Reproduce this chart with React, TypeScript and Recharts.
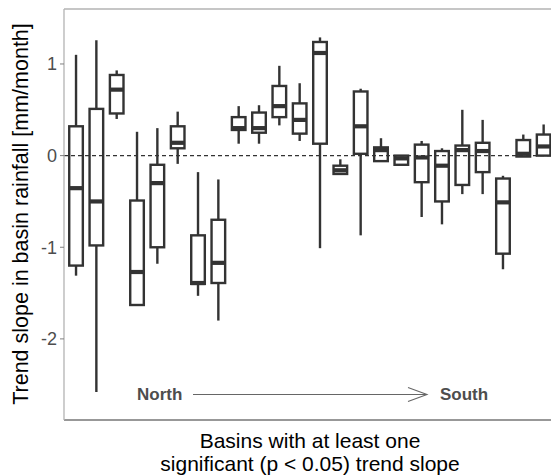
import { Bar, ComposedChart, ReferenceLine, XAxis, YAxis } from "recharts";

// basins ordered north -> south
const basins = [1, 2, 3, 4, 5, 6, 7, 8, 9, 10, 11, 12, 13, 14, 15, 16, 17, 18, 19, 20, 21, 22, 23, 24];
const whiskerLow = [-1.31, -2.58, 0.4, -1.63, -1.18, -0.09, -1.53, -1.8, 0.13, 0.13, 0.33, 0.16, -1.01, -0.2, -0.87, -0.06, -0.1, -0.67, -0.75, -0.42, -0.42, -1.24, -0.01, 0.0];
const q1 = [-1.2, -0.98, 0.46, -1.63, -1.0, 0.08, -1.4, -1.39, 0.28, 0.25, 0.42, 0.24, 0.13, -0.2, 0.02, -0.06, -0.1, -0.29, -0.5, -0.32, -0.18, -1.07, -0.01, 0.0];
const median = [-0.355, -0.5, 0.72, -1.27, -0.3, 0.14, -1.39, -1.17, 0.3, 0.3, 0.54, 0.39, 1.12, -0.16, 0.32, 0.06, -0.03, -0.02, -0.11, 0.06, 0.05, -0.51, 0.02, 0.1];
const q3 = [0.32, 0.51, 0.88, -0.49, -0.1, 0.32, -0.87, -0.7, 0.42, 0.47, 0.76, 0.57, 1.24, -0.11, 0.7, 0.09, 0.0, 0.12, 0.05, 0.11, 0.14, -0.25, 0.17, 0.23];
const whiskerHigh = [1.1, 1.26, 0.93, 0.26, 0.3, 0.48, -0.18, -0.26, 0.54, 0.55, 0.98, 0.79, 1.29, -0.04, 0.73, 0.19, 0.0, 0.16, 0.08, 0.5, 0.39, -0.22, 0.23, 0.34];
const yTicks = [-2, -1, 0, 1];

const data = basins.map((b, i) => ({
  idx: b,
  low: whiskerLow[i],
  q1: q1[i],
  median: median[i],
  q3: q3[i],
  high: whiskerHigh[i],
  range: [whiskerLow[i], whiskerHigh[i]],
}));

const INK = "#333333";
const FONT = "'Liberation Sans', Arial, Helvetica, sans-serif";

function BoxShape(props: any) {
  const { x, y, width, height, payload } = props;
  if (!payload) return null;
  const { low, high } = payload;
  const k = height / (high - low);
  const py = (v: number) => y + (high - v) * k;
  const cx = x + width / 2;
  const top = py(payload.q3);
  const bot = py(payload.q1);
  return (
    <g>
      <line x1={cx} x2={cx} y1={py(high)} y2={py(low)} stroke={INK} strokeWidth={2.4} />
      <rect
        x={x + 1.2}
        y={top}
        width={width - 2.4}
        height={Math.max(bot - top, 0.5)}
        fill="#fff"
        stroke={INK}
        strokeWidth={2.4}
      />
      <line x1={x + 1.2} x2={x + width - 1.2} y1={py(payload.median)} y2={py(payload.median)} stroke={INK} strokeWidth={4.2} />
    </g>
  );
}

export default function App() {
  return (
    <div style={{ position: "fixed", left: 0, top: 0, width: 551, height: 475, overflow: "hidden", background: "#fff" }}>
      <ComposedChart width={570} height={475} data={data} margin={{ top: 9, right: 14, left: 0, bottom: 0 }}>
        <XAxis
          type="number"
          dataKey="idx"
          domain={[0.4, 24.6]}
          allowDataOverflow
          tick={false}
          tickLine={false}
          axisLine={{ stroke: INK, strokeWidth: 1.2 }}
          height={55}
        />
        <YAxis
          type="number"
          domain={[-2.885, 1.6]}
          allowDataOverflow
          ticks={yTicks}
          tickFormatter={(v: number) => `${v}`}
          tick={{ fill: "#4d4d4d", fontSize: 18, fontFamily: FONT }}
          tickSize={4}
          tickMargin={3}
          tickLine={{ stroke: "#7f7f7f" }}
          axisLine={{ stroke: "#b3b3b3", strokeWidth: 1.3 }}
          width={64}
        />
        <ReferenceLine y={1.6} stroke="#b3b3b3" strokeWidth={1.5} />
        <ReferenceLine y={0} stroke={INK} strokeWidth={1.2} strokeDasharray="4 3" />
        <Bar dataKey="range" barSize={16} shape={BoxShape} isAnimationActive={false} />
      </ComposedChart>
      <svg width={551} height={475} style={{ position: "absolute", left: 0, top: 0, pointerEvents: "none" }}>
        <text
          transform="translate(28,214) rotate(-90)"
          textAnchor="middle"
          fontFamily={FONT}
          fontSize={21.5}
          fill="#000"
        >
          Trend slope in basin rainfall [mm/month]
        </text>
        <text x={310} y={448} textAnchor="middle" fontFamily={FONT} fontSize={21} fill="#000">
          Basins with at least one
        </text>
        <text x={310} y={471} textAnchor="middle" fontFamily={FONT} fontSize={21} fill="#000">
          significant (p &lt; 0.05) trend slope
        </text>
        <text x={137} y={400} fontFamily={FONT} fontSize={17} fontWeight="bold" fill="#4d4d4d">
          North
        </text>
        <text x={440} y={400} fontFamily={FONT} fontSize={17} fontWeight="bold" fill="#4d4d4d">
          South
        </text>
        <line x1={193} x2={427} y1={394.5} y2={394.5} stroke="#666" strokeWidth={1.1} />
        <polyline points="408,387.5 427,394.5 408,401.5" fill="none" stroke="#666" strokeWidth={1.1} />
      </svg>
    </div>
  );
}
